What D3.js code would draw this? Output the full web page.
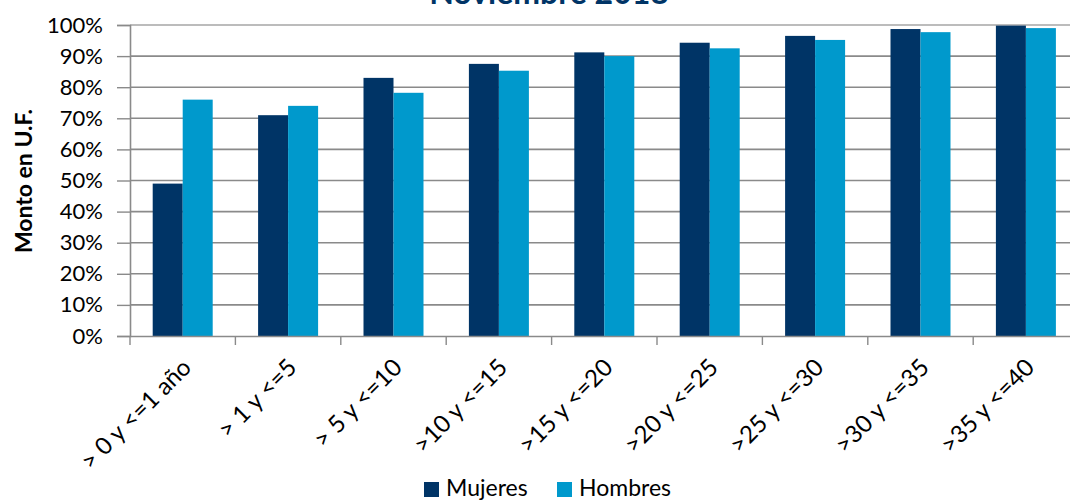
<!DOCTYPE html>
<html><head><meta charset="utf-8">
<script src="https://cdn.jsdelivr.net/npm/d3@7"></script>
<style>body{margin:0;background:#fff}svg{display:block}text{font-family:Lato,"Open Sans",sans-serif}</style>
</head><body>
<svg id="c" width="1070" height="501"></svg>
<script>
const categories = ["> 0 y <=1 año","> 1 y <=5","> 5 y <=10",">10 y <=15",">15 y <=20",">20 y <=25",">25 y <=30",">30 y <=35",">35 y <=40"];
const mujeres = [0.49,0.71,0.83,0.875,0.912,0.943,0.965,0.987,0.998];
const hombres = [0.76,0.74,0.782,0.853,0.90,0.925,0.952,0.977,0.99];
const seriesNames = ["Mujeres","Hombres"];
const colors = ["#003466","#0099cc"];
const yTicks = [0,0.1,0.2,0.3,0.4,0.5,0.6,0.7,0.8,0.9,1.0];
const title = "Noviembre 2018";
const yTitle = "Monto en U.F.";

const svg = d3.select("#c");
const pL = 130, pT = 25, pB = 336, pR = 130 + 9*105.4;
const x = d3.scaleBand().domain(categories).range([pL,pR]).paddingInner(0).paddingOuter(0);
const x1 = d3.scaleBand().domain(seriesNames).range([0,60]);
const y = d3.scaleLinear().domain([0,1]).range([pB,pT]);

// gridlines
svg.append("g").selectAll("line").data(yTicks.slice(1)).join("line")
  .attr("x1",pL).attr("x2",pR).attr("y1",d=>y(d)).attr("y2",d=>y(d))
  .attr("stroke",d=> d===1 ? "#a6a6a6" : "#8a8a8a").attr("stroke-width",1.6);

// bars
const data = categories.map((c,i)=>({c, vals:[mujeres[i],hombres[i]]}));
const groups = svg.append("g").selectAll("g").data(data).join("g")
  .attr("transform",d=>`translate(${x(d.c)+(x.bandwidth()-60)/2},0)`);
groups.selectAll("rect").data(d=>d.vals.map((v,j)=>({v,s:seriesNames[j],j}))).join("rect")
  .attr("x",d=>x1(d.s)).attr("width",x1.bandwidth())
  .attr("y",d=>y(d.v)).attr("height",d=>pB-y(d.v))
  .attr("fill",d=>colors[d.j]);

// y axis
const ya = svg.append("g").attr("transform",`translate(${pL},0)`)
  .call(d3.axisLeft(y).tickValues(yTicks).tickFormat(d3.format(".0%")).tickSize(13).tickPadding(14));
ya.select(".domain").attr("stroke","#8a8a8a").attr("stroke-width",1.6);
ya.selectAll(".tick line").attr("stroke","#8a8a8a").attr("stroke-width",1.4);
ya.selectAll("text").attr("font-size",22).attr("fill","#000").attr("font-family","Lato");

// x axis
const xa = svg.append("g").attr("transform",`translate(0,${pB})`)
  .call(d3.axisBottom(x).tickSize(0).tickFormat(""));
xa.select(".domain").attr("stroke","#8a8a8a").attr("stroke-width",1.6);
svg.append("g").selectAll("line").data(d3.range(categories.length+1)).join("line")
  .attr("x1",i=>pL+i*x.step()).attr("x2",i=>pL+i*x.step())
  .attr("y1",pB).attr("y2",pB+9).attr("stroke","#8a8a8a").attr("stroke-width",1.4);
svg.append("g").selectAll("text").data(categories).join("text")
  .attr("transform",d=>`translate(${x(d)+x.bandwidth()/2+10},${pB+33}) rotate(-45)`)
  .attr("text-anchor","end").attr("font-size",24).attr("fill","#000").text(d=>d);

// y title
svg.append("text").attr("transform",`translate(32,181) rotate(-90)`)
  .attr("text-anchor","middle").attr("font-size",23).attr("font-weight","bold").text(yTitle);

// title
svg.append("text").attr("x",549).attr("y",4).attr("text-anchor","middle")
  .attr("font-size",32).attr("font-weight","bold").attr("fill","#003466").text(title);

// legend
const lg = svg.append("g");
const lx = [424,557];
seriesNames.forEach((s,i)=>{
  lg.append("rect").attr("x",lx[i]).attr("y",482).attr("width",15).attr("height",15).attr("fill",colors[i]);
  lg.append("text").attr("x",lx[i]+22).attr("y",496).attr("font-size",23).attr("fill","#000").text(s);
});
</script>
</body></html>
